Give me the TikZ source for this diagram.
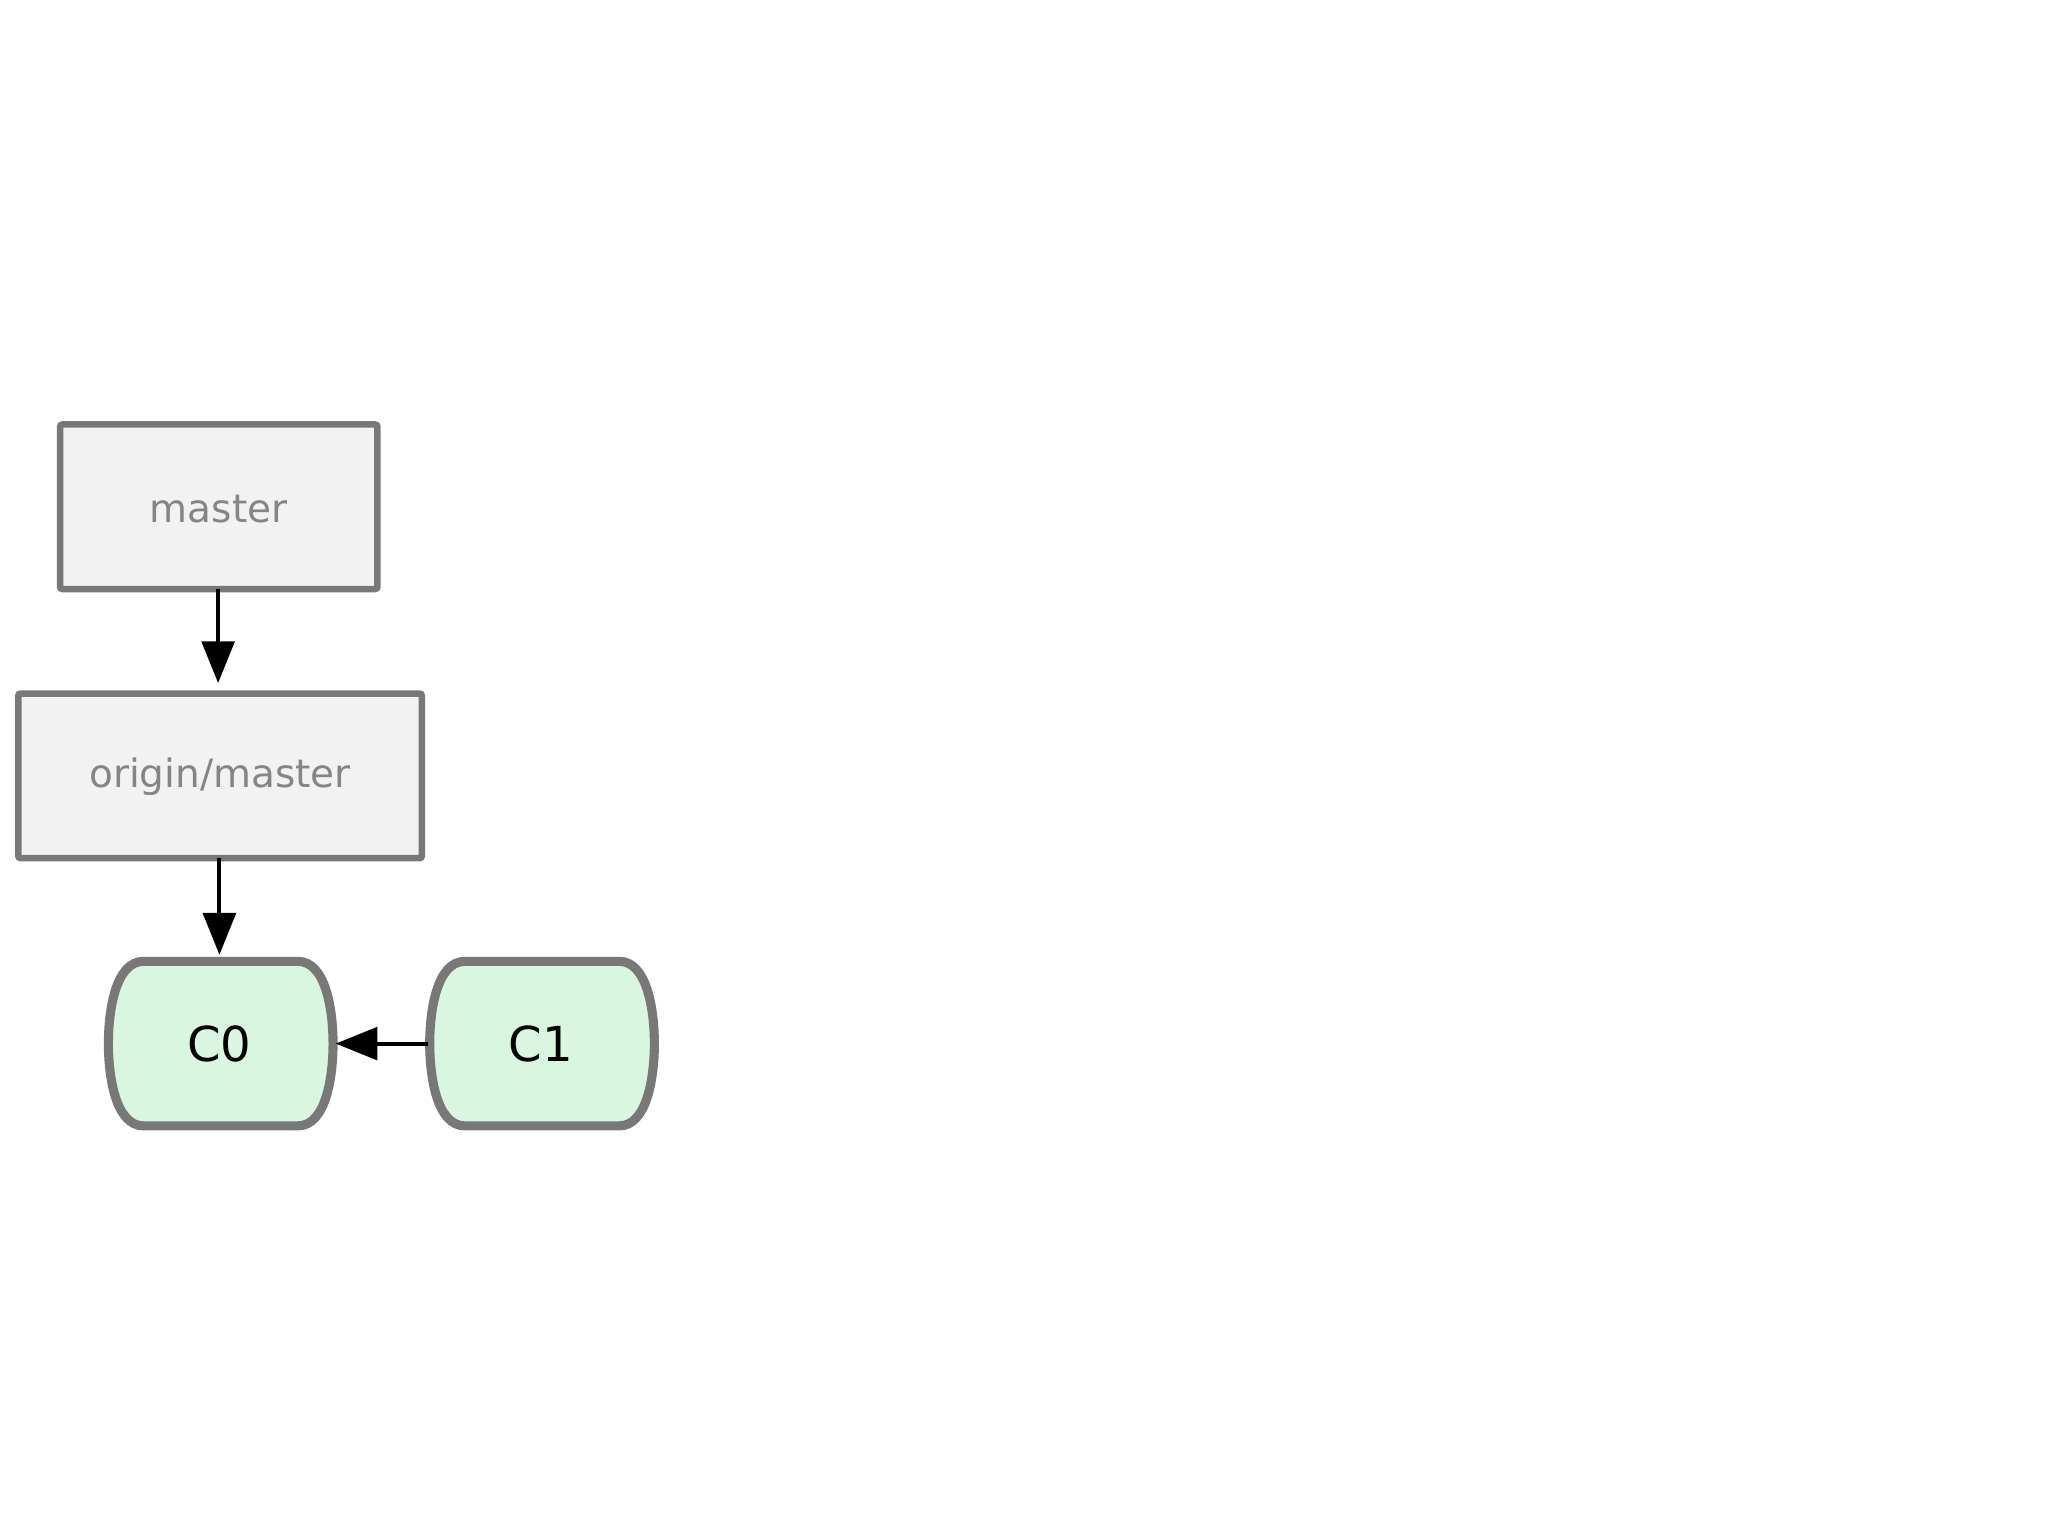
\documentclass[tikz,border=0pt]{standalone}
\usepackage{fontspec}
\setmainfont{DejaVu Sans}
\usetikzlibrary{arrows.meta}
\begin{document}
\begin{tikzpicture}[x=0.02cm,y=-0.02cm,
  refbox/.style={draw=black!53,line width=5pt*0.02/0.0352778,fill=black!5,rounded corners=1pt},
  reflabel/.style={text=black!48,font=\fontsize{17}{20}\selectfont},
  commitbox/.style={draw=black!53,line width=7pt*0.02/0.0352778,fill=green!60!teal!15},
  conn/.style={line width=3pt*0.02/0.0352778,-{Triangle[length=0.64cm,width=0.5cm]}}]
\useasboundingbox (0,0) rectangle (1568,1176);
\fill[white] (0,0) rectangle (1568,1176);
\draw[refbox] (46,325) rectangle (289,451);
\node[reflabel] (master) at (167.5,390) {master};
\coordinate (mb) at (167,451);
\draw[refbox] (14,531) rectangle (323,657);
\node[reflabel] (origin) at (168.5,595) {origin/master};
\coordinate (ot) at (167,523);
\coordinate (obot) at (168,657);
% commits
\foreach \n/\xa in {C0/82,C1/328}{
  \draw[commitbox] (\xa+28,736) -- (\xa+146,736)
    .. controls (\xa+168,736) and (\xa+173,775) .. (\xa+173,799)
    .. controls (\xa+173,823) and (\xa+168,862) .. (\xa+146,862)
    -- (\xa+28,862)
    .. controls (\xa+6,862) and (\xa+1,823) .. (\xa+1,799)
    .. controls (\xa+1,775) and (\xa+6,736) .. (\xa+28,736) -- cycle;
  \node[font=\fontsize{21}{24}\selectfont] (\n) at (\xa+86,799) {\n};
}
\coordinate (c0t) at (168,731);
\coordinate (c0r) at (257,799);
\coordinate (c1l) at (328,799);
\draw[conn] (mb) -- (ot);
\draw[conn] (obot) -- (c0t);
\draw[conn] (c1l) -- (c0r);
\end{tikzpicture}
\end{document}
